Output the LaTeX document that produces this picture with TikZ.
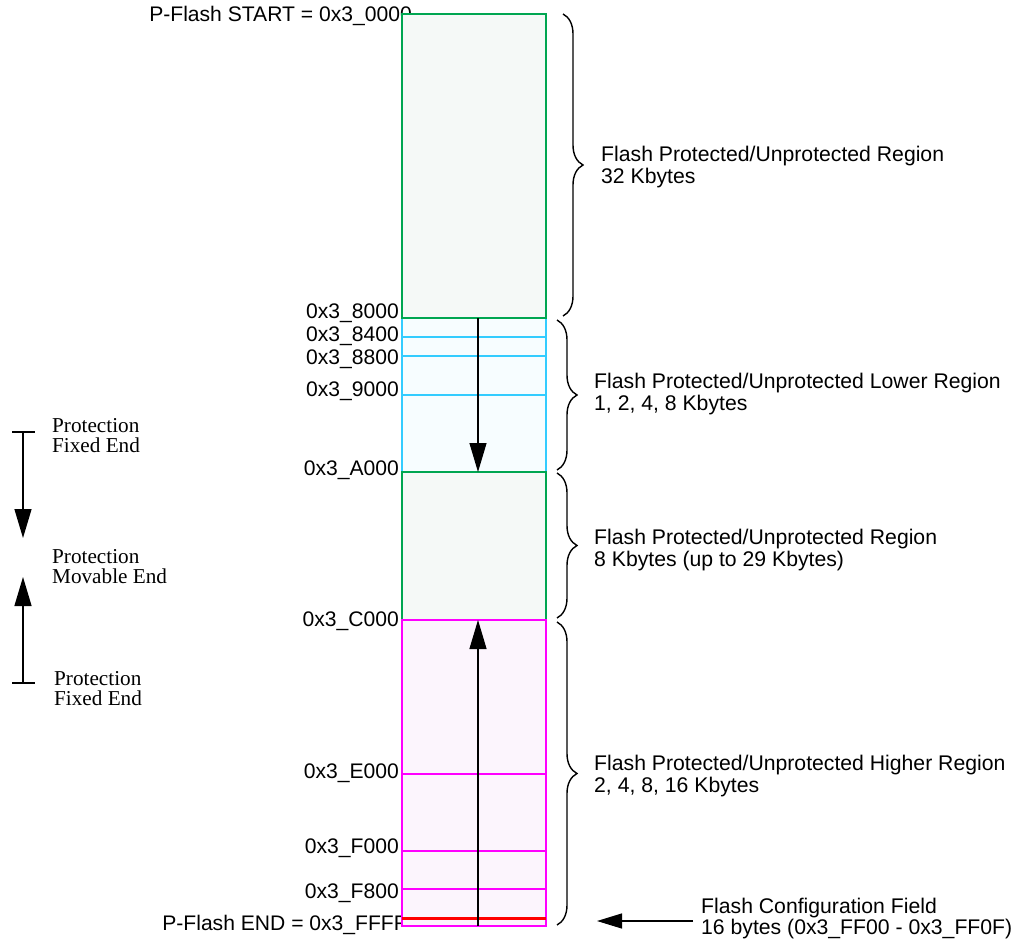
\documentclass[tikz,border=0pt]{standalone}
\usepackage{fontspec}
\setmainfont{Liberation Sans}
\newfontfamily\tms{Liberation Serif}
\usetikzlibrary{arrows.meta,decorations.pathreplacing}
\definecolor{grn}{RGB}{0,166,81}
\definecolor{grnfill}{RGB}{245,249,247}
\definecolor{cyn}{RGB}{51,204,255}
\definecolor{cynfill}{RGB}{247,253,255}
\definecolor{mag}{RGB}{255,0,255}
\definecolor{magfill}{RGB}{252,245,253}
\definecolor{rd}{RGB}{255,0,0}
\tikzset{
  addr/.style={anchor=base east,inner sep=0pt,font=\fontsize{21.1}{22}\selectfont},
  desc/.style={anchor=base west,inner sep=0pt,align=left,font=\fontsize{21.2}{22}\selectfont},
  sdesc/.style={anchor=base west,inner sep=0pt,align=left,font=\tms\fontsize{21.2}{20}\selectfont},
  brc/.style={decorate,decoration={brace,amplitude=20pt},line width=1.4pt},
  bigarrow/.style={-{Triangle[length=29pt,width=17pt]},line width=1.2pt},
  sub/.style={line width=1.6pt},
}
\begin{document}
\begin{tikzpicture}[x=1pt,y=-1pt]
\useasboundingbox (0,0) rectangle (1018,947);
% labels drawn first (box may overlap their ends)
\node[addr] (start) at (412,22) {P-Flash START = 0x3\_0000};
\node[addr] (pend) at (407,930) {P-Flash END = 0x3\_FFFF};
% regions
\fill[cynfill] (402,318) rectangle (546,472);
\draw[cyn,sub] (402,318) rectangle (546,472);
\draw[cyn,sub] (402,337) -- (546,337);
\draw[cyn,sub] (402,356) -- (546,356);
\draw[cyn,sub] (402,395) -- (546,395);
\draw[grn,sub,fill=grnfill] (402,14) rectangle (546,318);
\draw[grn,sub,fill=grnfill] (402,472) rectangle (546,620);
\draw[mag,sub,fill=magfill] (402,620) rectangle (546,926);
\draw[mag,sub] (402,774) -- (546,774);
\draw[mag,sub] (402,851) -- (546,851);
\draw[mag,sub] (402,889) -- (546,889);
\draw[rd,line width=3pt] (402,918) -- (546,918);
% column arrows
\coordinate (lowtop) at (478,318);
\coordinate (lowend) at (478,472);
\coordinate (hightop) at (478,620);
\coordinate (highend) at (478,926);
\draw[bigarrow] (lowtop) -- (lowend);
\draw[bigarrow] (highend) -- (hightop);
% address labels
\node[addr] (a8000) at (399,318) {0x3\_8000};
\node[addr] (a8400) at (399,341) {0x3\_8400};
\node[addr] (a8800) at (399,364) {0x3\_8800};
\node[addr] (a9000) at (399,396) {0x3\_9000};
\node[addr] (aA000) at (399,475) {0x3\_A000};
\node[addr] (aC000) at (399,626) {0x3\_C000};
\node[addr] (aE000) at (399,778) {0x3\_E000};
\node[addr] (aF000) at (399,853) {0x3\_F000};
\node[addr] (aF800) at (399,898) {0x3\_F800};
% braces
\draw[brc] (563,14) -- (563,316);
\draw[brc] (557,320) -- (557,470);
\draw[brc] (557,473) -- (557,618);
\draw[brc] (557,622) -- (557,925);
% region descriptions (base = last line)
\node[desc] (d1) at (601,184) {Flash Protected/Unprotected Region\\32 Kbytes};
\node[desc] (d2) at (594,410) {Flash Protected/Unprotected Lower Region\\1, 2, 4, 8 Kbytes};
\node[desc] (d3) at (594,566) {Flash Protected/Unprotected Region\\8 Kbytes (up to 29 Kbytes)};
\node[desc] (d4) at (594,792) {Flash Protected/Unprotected Higher Region\\2, 4, 8, 16 Kbytes};
\node[desc,font=\fontsize{21.2}{16}\selectfont] (cfg) at (701,934) {Flash Configuration Field\\16 bytes (0x3\_FF00 - 0x3\_FF0F)};
\coordinate (cfgtip) at (597,921);
\draw[-{Triangle[length=25pt,width=15pt]},line width=1.2pt] (693,921) -- (cfgtip);
% protection legend
\coordinate (ptop) at (23,432);
\coordinate (pbot) at (23,683);
\coordinate (pmidA) at (23,538);
\coordinate (pmidB) at (23,577);
\draw[line width=1.4pt] (12,432) -- (35,432);
\draw[line width=1.4pt] (12,683) -- (35,683);
\draw[bigarrow,line width=1.4pt] (ptop) -- (pmidA);
\draw[bigarrow,line width=1.4pt] (pbot) -- (pmidB);
\node[sdesc] (p1) at (52,452) {Protection\\Fixed End};
\node[sdesc] (p2) at (52,583) {Protection\\Movable End};
\node[sdesc] (p3) at (54,705) {Protection\\Fixed End};
\end{tikzpicture}
\end{document}
